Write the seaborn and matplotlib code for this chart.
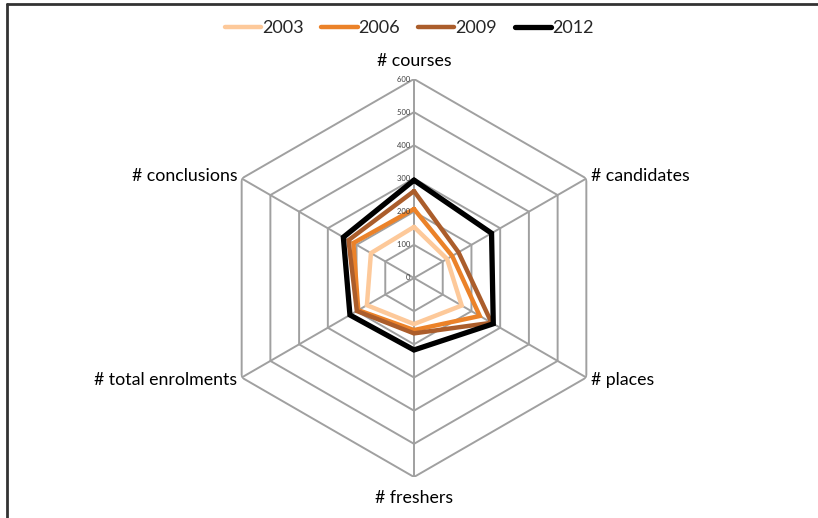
import numpy as np
import matplotlib
matplotlib.use('Agg')
import matplotlib.pyplot as plt
import seaborn as sns
from matplotlib.lines import Line2D

# data
categories = ['# courses', '# candidates', '# places', '# freshers',
              '# total enrolments', '# conclusions']
years = ['2003', '2006', '2009', '2012']
v2003 = [154, 115, 166, 139, 164, 150]
v2006 = [208, 133, 229, 157, 194, 211]
v2009 = [262, 155, 270, 167, 199, 228]
v2012 = [295, 270, 276, 217, 223, 246]
radial_ticks = [0, 100, 200, 300, 400, 500, 600]

colors = ['#FDC99A', '#EB8229', '#AB5D2B', '#000000']
widths = [3.2, 3.2, 3.2, 3.8]

sns.set_style('white')
plt.rcParams['font.family'] = ['Lato', 'DejaVu Sans']

fig = plt.figure(figsize=(8.18, 5.18), dpi=100)
W, H = 818, 518
cx, cy, R = 414, 278, 199
ax = fig.add_axes([(cx - R) / W, (H - cy - R) / H, 2 * R / W, 2 * R / H],
                  projection='polar')
ax.set_theta_offset(np.pi / 2)
ax.set_theta_direction(-1)
ax.set_ylim(0, 600)
ax.grid(False)
ax.spines['polar'].set_visible(False)
ax.set_xticks([])
ax.set_yticks([])
ax.patch.set_alpha(0)

n = len(categories)
angles = np.linspace(0, 2 * np.pi, n, endpoint=False)
closed = np.append(angles, angles[0])

# hexagon grid
grid_c = '#A0A0A0'
for r in radial_ticks[1:]:
    ax.plot(closed, [r] * (n + 1), color=grid_c, lw=1.4, zorder=1)
for a in angles:
    ax.plot([a, a], [0, 600], color=grid_c, lw=1.4, zorder=1)

# series
for y, vals, c, w in zip(years, [v2003, v2006, v2009, v2012], colors, widths):
    ax.plot(closed, vals + vals[:1], color=c, lw=w, label=y, zorder=3,
            solid_joinstyle='miter')

# radial tick labels
for r in radial_ticks:
    ax.text(0, r, f'{r}  ', ha='right', va='center', fontsize=5.5,
            color='#404040', zorder=4)

# category labels
for a, lab in zip(angles, categories):
    ha = 'center'
    va = 'center'
    rr = 615
    if np.isclose(a, 0):
        va = 'bottom'; rr = 630
    elif np.isclose(a, np.pi):
        va = 'top'; rr = 640
    elif a < np.pi:
        ha = 'left'
    else:
        ha = 'right'
    ax.text(a, rr, lab, ha=ha, va=va, fontsize=12.8, color='#000000')

fig.legend(loc='center', bbox_to_anchor=(0.5, 1 - 28 / H), ncol=4,
           frameon=False, fontsize=13, handlelength=2.0, handletextpad=0.05,
           columnspacing=1.0)

# outer frame (only top and left visible, like the reference)
fig.lines.append(Line2D([7 / W, 7 / W], [0, 1 - 4 / H], transform=fig.transFigure,
                        color='#333333', lw=2))
fig.lines.append(Line2D([7 / W, 1], [1 - 4 / H, 1 - 4 / H], transform=fig.transFigure,
                        color='#333333', lw=2))

fig.savefig('out.png', dpi=100)
